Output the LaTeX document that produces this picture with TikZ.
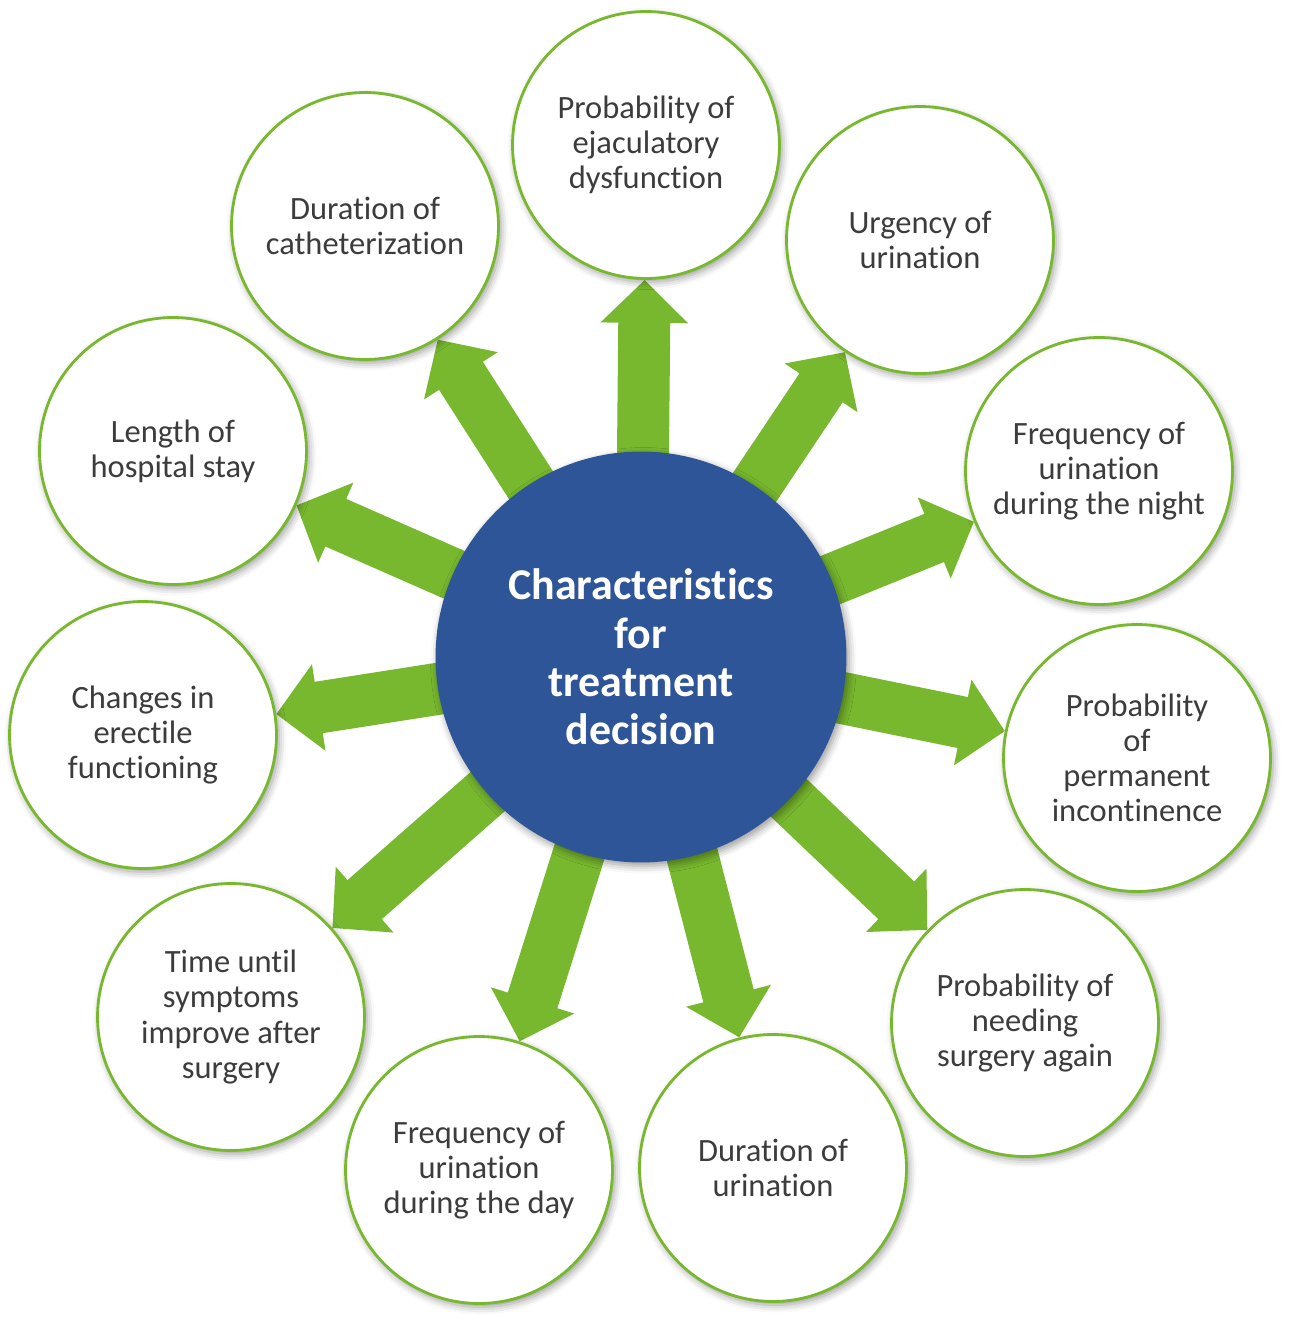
\documentclass[tikz,border=0pt]{standalone}
\usepackage{fontspec}
\setmainfont{Carlito}[Ligatures=NoCommon]
\usetikzlibrary{arrows.meta,backgrounds,shadows.blur}
\definecolor{decGreen}{RGB}{120,184,46}
\definecolor{decBlue}{RGB}{46,85,151}
\definecolor{decText}{RGB}{60,60,60}
\begin{document}
\begin{tikzpicture}[x=0.02cm,y=-0.02cm,
    topicCircle/.style={circle,draw=decGreen,line width=1.6pt,fill=white,minimum size=5.34cm,inner sep=0pt,align=center,text=decText,font=\fontsize{18.5}{20}\selectfont,blur shadow={shadow xshift=0.05cm,shadow yshift=-0.07cm,shadow blur radius=0.15cm,shadow opacity=40}},
    coreCircle/.style={circle,fill=decBlue,minimum size=8.22cm,inner sep=0pt,align=center,text=white,font=\fontsize{25}{27.5}\selectfont\bfseries,blur shadow={shadow xshift=0.05cm,shadow yshift=-0.07cm,shadow blur radius=0.15cm,shadow opacity=40}},
    fatArrow/.style={-{Triangle[width=1.7cm,length=0.86cm]},line width=1.04cm,draw=decGreen},
]
\useasboundingbox (0,0) rectangle (1301,1333);
% === centre ===
\node[coreCircle] (core) at (641,657) {Characteristics\\for\\treatment\\decision};
% === topics, clockwise from the top ===
\node[topicCircle] (probEjac) at (646,145) {Probability of\\ejaculatory\\dysfunction};
\node[topicCircle] (urgency) at (920,240) {Urgency of\\urination};
\node[topicCircle] (freqNight) at (1099,471) {Frequency of\\urination\\during the night};
\node[topicCircle] (permIncont) at (1137,758) {Probability\\of\\permanent\\incontinence};
\node[topicCircle] (surgAgain) at (1025,1023) {Probability of\\needing\\surgery again};
\node[topicCircle] (durUrin) at (773,1168) {Duration of\\urination};
\node[topicCircle] (freqDay) at (479,1170) {Frequency of\\urination\\during the day};
\node[topicCircle] (timeImprove) at (231,1017) {Time until\\symptoms\\improve after\\surgery};
\node[topicCircle] (erectile) at (143,735) {Changes in\\erectile\\functioning};
\node[topicCircle] (hospStay) at (173,451) {Length of\\hospital stay};
\node[topicCircle] (durCath) at (365,226) {Duration of\\catheterization};
% === arrows behind the centre ===
\begin{scope}[on background layer]
\foreach \t in {probEjac,urgency,freqNight,permIncont,surgAgain,durUrin,freqDay,timeImprove,erectile,hospStay,durCath}
    \draw[fatArrow] (core.center) -- (\t);
\end{scope}
\end{tikzpicture}
\end{document}
